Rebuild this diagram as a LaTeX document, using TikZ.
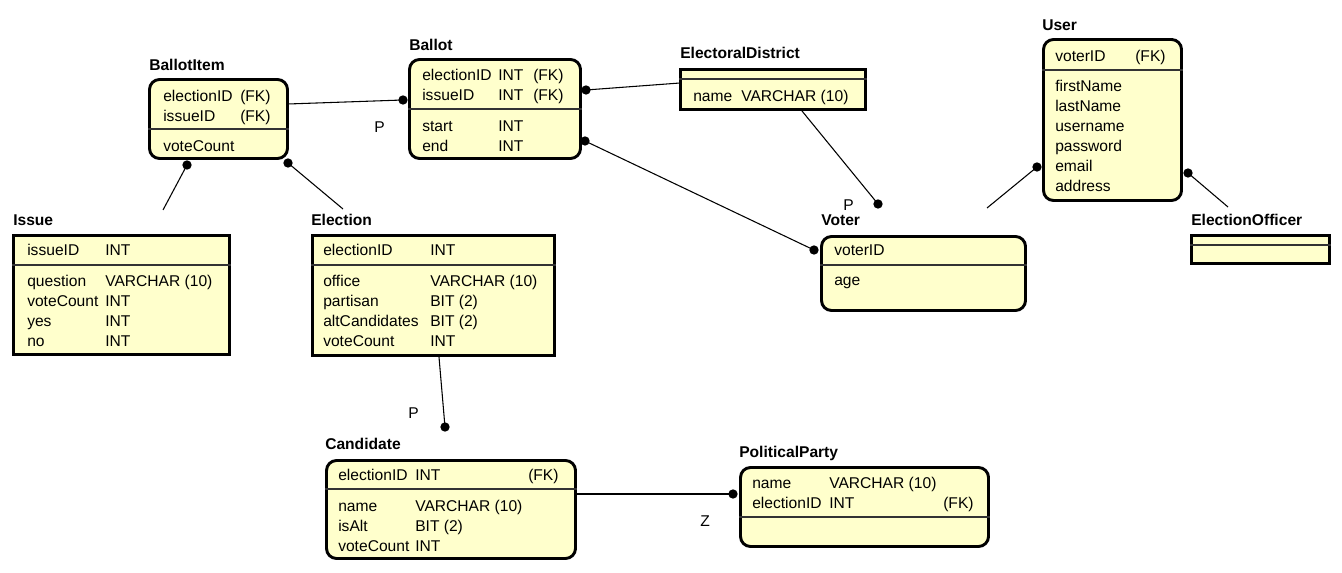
\documentclass[tikz,border=0pt]{standalone}
\usepackage{fontspec}
\setmainfont{Liberation Sans}
\usetikzlibrary{fit}
\definecolor{entfill}{RGB}{255,255,204}
\tikzset{
  ent/.style={draw, line width=2.2pt, fill=entfill, inner sep=0pt, rounded corners=7.5pt},
  sqent/.style={draw, line width=2.2pt, fill=entfill, inner sep=0pt},
  etitle/.style={anchor=base west, inner sep=0pt, font=\fontsize{11.7}{13}\selectfont\bfseries},
  attr/.style={anchor=base west, inner sep=0pt, font=\fontsize{11.7}{13}\selectfont},
  lbl/.style={anchor=base west, inner sep=0pt, font=\fontsize{11.7}{13}\selectfont},
  sepline/.style={line width=0.8pt, draw=black!80},
  conn/.style={line width=0.8pt},
  enddot/.style={fill=black}
}
\begin{document}
\begin{tikzpicture}[x=0.75pt,y=-0.75pt]
\useasboundingbox (0,0) rectangle (1342,573);
\fill[white] (0,0) rectangle (1342,573);

% ---------- BallotItem ----------
\node[etitle] (tBallotItem) at (149,71) {BallotItem};
\node[ent, fit={(149.5,79.5) (287.5,158.5)}] (ballotitem) {};
\draw[sepline] (ballotitem.west |- 0,129) -- (ballotitem.east |- 0,129);
\node[attr] (bi1) at (163,102) {electionID};
\node[attr] (bi2) at (240,102) {(FK)};
\node[attr] (bi3) at (163,122) {issueID};
\node[attr] (bi4) at (240,122) {(FK)};
\node[attr] (bi5) at (163,152) {voteCount};

% ---------- Ballot ----------
\node[etitle] (tBallot) at (409,51) {Ballot};
\node[ent, fit={(409.5,59.5) (580.5,158.5)}] (ballot) {};
\draw[sepline] (ballot.west |- 0,109) -- (ballot.east |- 0,109);
\node[attr] (b1) at (422,81) {electionID};
\node[attr] (b2) at (498,81) {INT};
\node[attr] (b3) at (533,81) {(FK)};
\node[attr] (b4) at (422,101) {issueID};
\node[attr] (b5) at (498,101) {INT};
\node[attr] (b6) at (533,101) {(FK)};
\node[attr] (b7) at (422,132) {start};
\node[attr] (b8) at (498,132) {INT};
\node[attr] (b9) at (422,152) {end};
\node[attr] (b10) at (498,152) {INT};

% ---------- ElectoralDistrict ----------
\node[etitle] (tED) at (680,59) {ElectoralDistrict};
\node[sqent, fit={(680.5,69.5) (865.5,109.5)}] (ed) {};
\draw[sepline] (ed.west |- 0,79) -- (ed.east |- 0,79);
\node[attr] (ed1) at (693,102) {name};
\node[attr] (ed2) at (741,102) {VARCHAR (10)};

% ---------- User ----------
\node[etitle] (tUser) at (1042,31) {User};
\node[ent, fit={(1043.5,39.5) (1181.5,200.5)}] (user) {};
\draw[sepline] (user.west |- 0,70) -- (user.east |- 0,70);
\node[attr] (u1) at (1055,62) {voterID};
\node[attr] (u2) at (1135,62) {(FK)};
\node[attr] (u3) at (1055,92) {firstName};
\node[attr] (u4) at (1055,112) {lastName};
\node[attr] (u5) at (1055,132) {username};
\node[attr] (u6) at (1055,152) {password};
\node[attr] (u7) at (1055,172) {email};
\node[attr] (u8) at (1055,192) {address};

% ---------- ElectionOfficer ----------
\node[etitle] (tEO) at (1191,226) {ElectionOfficer};
\node[sqent, fit={(1191.5,235.5) (1329.5,263.5)}] (eo) {};
\draw[sepline] (eo.west |- 0,245) -- (eo.east |- 0,245);

% ---------- Voter ----------
\node[etitle] (tVoter) at (821,226) {Voter};
\node[ent, fit={(821.5,236.5) (1025.5,310.5)}] (voter) {};
\draw[sepline] (voter.west |- 0,265) -- (voter.east |- 0,265);
\node[attr] (v1) at (834,256) {voterID};
\node[attr] (v2) at (834,286) {age};

% ---------- Issue ----------
\node[etitle] (tIssue) at (13,226) {Issue};
\node[sqent, fit={(13.5,235.5) (229.5,354.5)}] (issue) {};
\draw[sepline] (issue.west |- 0,265) -- (issue.east |- 0,265);
\node[attr] (i1) at (27,256) {issueID};
\node[attr] (i2) at (105,256) {INT};
\node[attr] (i3) at (27,287) {question};
\node[attr] (i4) at (105,287) {VARCHAR (10)};
\node[attr] (i5) at (27,307) {voteCount};
\node[attr] (i6) at (105,307) {INT};
\node[attr] (i7) at (27,327) {yes};
\node[attr] (i8) at (105,327) {INT};
\node[attr] (i9) at (27,347) {no};
\node[attr] (i10) at (105,347) {INT};

% ---------- Election ----------
\node[etitle] (tElection) at (311,226) {Election};
\node[sqent, fit={(312.5,235.5) (554.5,355.5)}] (election) {};
\draw[sepline] (election.west |- 0,265) -- (election.east |- 0,265);
\node[attr] (e1) at (323,256) {electionID};
\node[attr] (e2) at (430,256) {INT};
\node[attr] (e3) at (323,287) {office};
\node[attr] (e4) at (430,287) {VARCHAR (10)};
\node[attr] (e5) at (323,307) {partisan};
\node[attr] (e6) at (430,307) {BIT (2)};
\node[attr] (e7) at (323,327) {altCandidates};
\node[attr] (e8) at (430,327) {BIT (2)};
\node[attr] (e9) at (323,347) {voteCount};
\node[attr] (e10) at (430,347) {INT};

% ---------- Candidate ----------
\node[etitle] (tCandidate) at (325,449) {Candidate};
\node[ent, fit={(326.5,460.5) (575.5,558.5)}] (candidate) {};
\draw[sepline] (candidate.west |- 0,489) -- (candidate.east |- 0,489);
\node[attr] (c1) at (338,480) {electionID};
\node[attr] (c2) at (415,480) {INT};
\node[attr] (c3) at (528,480) {(FK)};
\node[attr] (c4) at (338,511) {name};
\node[attr] (c5) at (415,511) {VARCHAR (10)};
\node[attr] (c6) at (338,531) {isAlt};
\node[attr] (c7) at (415,531) {BIT (2)};
\node[attr] (c8) at (338,551) {voteCount};
\node[attr] (c9) at (415,551) {INT};

% ---------- PoliticalParty ----------
\node[etitle] (tPP) at (739,457) {PoliticalParty};
\node[ent, fit={(740.5,467.5) (988.5,546.5)}] (party) {};
\draw[sepline] (party.west |- 0,517) -- (party.east |- 0,517);
\node[attr] (p1) at (752,488) {name};
\node[attr] (p2) at (829,488) {VARCHAR (10)};
\node[attr] (p3) at (752,508) {electionID};
\node[attr] (p4) at (829,508) {INT};
\node[attr] (p5) at (943,508) {(FK)};

% ---------- connector end points ----------
\coordinate (biR) at (288,104);
\coordinate (bD1) at (403,100);
\coordinate (bD2) at (586,90);
\coordinate (edL) at (680,83);
\coordinate (bD3) at (585,141);
\coordinate (vD) at (814,250);
\coordinate (edB) at (802,111);
\coordinate (edD) at (878,204);
\coordinate (biD1) at (187,165);
\coordinate (isT) at (163,210);
\coordinate (biD2) at (288,163);
\coordinate (elT) at (343,209);
\coordinate (elB) at (439,357);
\coordinate (caD) at (445,427);
\coordinate (caR) at (577,494);
\coordinate (ppD) at (733,494);
\coordinate (uD1) at (1037,167);
\coordinate (voT) at (987,208);
\coordinate (uD2) at (1188,173);
\coordinate (eoT) at (1228,207);

% ---------- connectors ----------
\draw[conn] (biR) -- (bD1);
\draw[conn] (bD2) -- (edL);
\draw[conn] (bD3) -- (vD);
\draw[conn] (edB) -- (edD);
\draw[conn] (biD1) -- (isT);
\draw[conn] (biD2) -- (elT);
\draw[conn] (elB) -- (caD);
\draw[conn] (caR) -- (ppD);
\draw[conn] (uD1) -- (voT);
\draw[conn] (uD2) -- (eoT);

\foreach \d in {bD1,bD2,bD3,vD,edD,biD1,biD2,caD,ppD,uD1,uD2}
  \fill[enddot] (\d) circle[radius=3.5pt];

% ---------- labels ----------
\node[lbl] (lP1) at (374,133) {P};
\node[lbl] (lP2) at (843,211) {P};
\node[lbl] (lP3) at (408,418) {P};
\node[lbl] (lZ) at (700,526) {Z};
\end{tikzpicture}
\end{document}
